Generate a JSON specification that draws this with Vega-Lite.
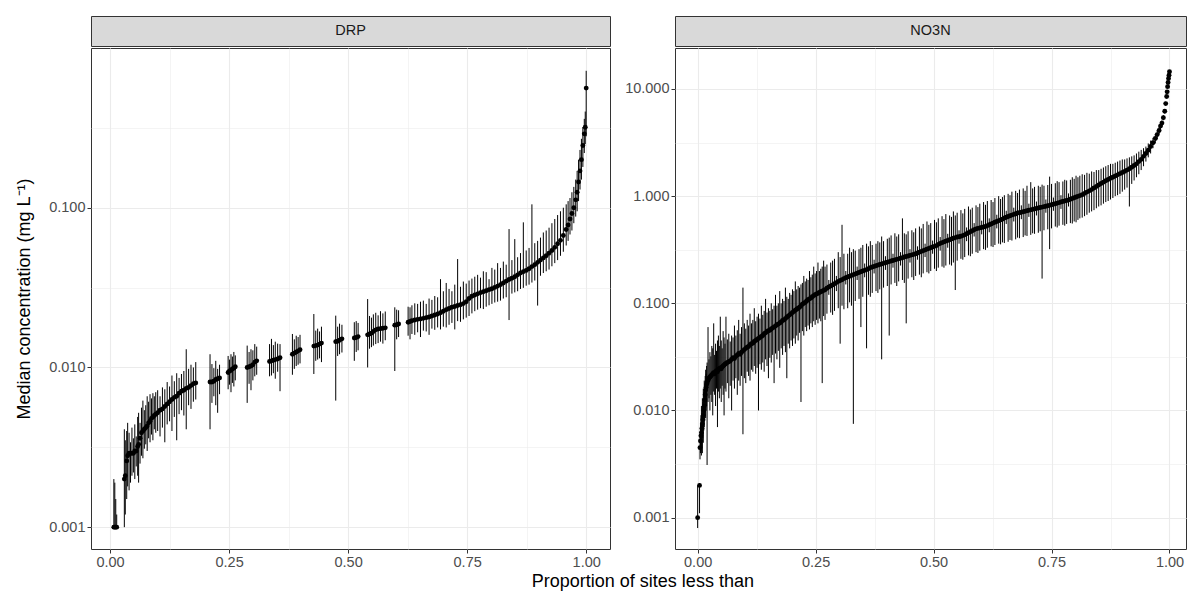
{
"$schema": "https://vega.github.io/schema/vega-lite/v6.json",
"padding": {"left": 15, "top": 15, "right": 0, "bottom": 0},
"background": "white",
"config": {
  "font": "Liberation Sans",
  "view": {"stroke": "#333333", "strokeWidth": 1},
  "axis": {
    "labelFont": "Liberation Sans", "titleFont": "Liberation Sans",
    "labelFontSize": 14.5, "labelColor": "#4D4D4D", "titleFontSize": 18, "titleFontWeight": "normal", "titleColor": "#000000",
    "domain": false, "tickColor": "#333333", "tickSize": 4, "tickWidth": 1, "labelPadding": 2,
    "gridColor": "#EBEBEB", "labelOverlap": false, "labelFlush": false
  }
},
"datasets": {
  "strip_drp": [{"label": "DRP"}],
  "strip_no3n": [{"label": "NO3N"}],
  "drp": [
    {"p":0.008,"m":0.001,"lo":0.001,"hi":0.002},
    {"p":0.010,"m":0.001,"lo":0.001,"hi":0.0019},
    {"p":0.012,"m":0.001,"lo":0.001,"hi":0.0015},
    {"p":0.014,"m":0.001,"lo":0.001,"hi":0.0012},
    {"p":0.030,"m":0.002,"lo":0.001,"hi":0.0041},
    {"p":0.032,"m":0.0021,"lo":0.0012,"hi":0.0035},
    {"p":0.035,"m":0.0026,"lo":0.0015,"hi":0.004},
    {"p":0.037,"m":0.0028,"lo":0.0018,"hi":0.0045},
    {"p":0.040,"m":0.0029,"lo":0.0017,"hi":0.0039},
    {"p":0.043,"m":0.0029,"lo":0.0019,"hi":0.0034},
    {"p":0.046,"m":0.0029,"lo":0.0021,"hi":0.0042},
    {"p":0.049,"m":0.0029,"lo":0.0022,"hi":0.0036},
    {"p":0.052,"m":0.003,"lo":0.002,"hi":0.0044},
    {"p":0.055,"m":0.003,"lo":0.0024,"hi":0.0037},
    {"p":0.058,"m":0.0032,"lo":0.0021,"hi":0.0049},
    {"p":0.060,"m":0.0033,"lo":0.0019,"hi":0.0052},
    {"p":0.063,"m":0.0036,"lo":0.0025,"hi":0.0045},
    {"p":0.066,"m":0.0039,"lo":0.0028,"hi":0.0056},
    {"p":0.069,"m":0.004,"lo":0.0027,"hi":0.0062},
    {"p":0.072,"m":0.0041,"lo":0.0031,"hi":0.0054},
    {"p":0.075,"m":0.0042,"lo":0.0033,"hi":0.0058},
    {"p":0.078,"m":0.0043,"lo":0.003,"hi":0.0066},
    {"p":0.081,"m":0.0045,"lo":0.0036,"hi":0.0061},
    {"p":0.084,"m":0.0046,"lo":0.0034,"hi":0.0068},
    {"p":0.087,"m":0.0048,"lo":0.0038,"hi":0.0064},
    {"p":0.090,"m":0.0049,"lo":0.0035,"hi":0.0069},
    {"p":0.093,"m":0.005,"lo":0.0041,"hi":0.0066},
    {"p":0.096,"m":0.0051,"lo":0.0039,"hi":0.007},
    {"p":0.100,"m":0.0052,"lo":0.004,"hi":0.0072},
    {"p":0.105,"m":0.0054,"lo":0.0037,"hi":0.0066},
    {"p":0.110,"m":0.0055,"lo":0.0042,"hi":0.0075},
    {"p":0.115,"m":0.0057,"lo":0.0034,"hi":0.0073},
    {"p":0.120,"m":0.0059,"lo":0.0044,"hi":0.0081},
    {"p":0.125,"m":0.0061,"lo":0.0046,"hi":0.0076},
    {"p":0.130,"m":0.0063,"lo":0.004,"hi":0.0089},
    {"p":0.135,"m":0.0065,"lo":0.0049,"hi":0.0082},
    {"p":0.140,"m":0.0066,"lo":0.0035,"hi":0.0092},
    {"p":0.145,"m":0.0069,"lo":0.0051,"hi":0.0086},
    {"p":0.150,"m":0.0071,"lo":0.0054,"hi":0.0091},
    {"p":0.155,"m":0.0072,"lo":0.005,"hi":0.0095},
    {"p":0.160,"m":0.0074,"lo":0.0041,"hi":0.013},
    {"p":0.165,"m":0.0075,"lo":0.0058,"hi":0.0098},
    {"p":0.170,"m":0.0077,"lo":0.0055,"hi":0.0104},
    {"p":0.175,"m":0.0079,"lo":0.0061,"hi":0.01},
    {"p":0.180,"m":0.008,"lo":0.0063,"hi":0.0108},
    {"p":0.210,"m":0.0081,"lo":0.0041,"hi":0.0121},
    {"p":0.214,"m":0.0081,"lo":0.006,"hi":0.0105},
    {"p":0.218,"m":0.0082,"lo":0.0066,"hi":0.0099},
    {"p":0.222,"m":0.0084,"lo":0.0058,"hi":0.011},
    {"p":0.226,"m":0.0085,"lo":0.0052,"hi":0.0098},
    {"p":0.230,"m":0.0086,"lo":0.0068,"hi":0.0104},
    {"p":0.248,"m":0.0093,"lo":0.0073,"hi":0.0118},
    {"p":0.251,"m":0.0095,"lo":0.0078,"hi":0.0112},
    {"p":0.254,"m":0.0096,"lo":0.007,"hi":0.0121},
    {"p":0.257,"m":0.0098,"lo":0.008,"hi":0.0117},
    {"p":0.260,"m":0.0099,"lo":0.0076,"hi":0.0125},
    {"p":0.263,"m":0.0101,"lo":0.0083,"hi":0.0119},
    {"p":0.288,"m":0.01,"lo":0.006,"hi":0.0137},
    {"p":0.292,"m":0.0101,"lo":0.0079,"hi":0.0125},
    {"p":0.296,"m":0.0102,"lo":0.0072,"hi":0.013},
    {"p":0.300,"m":0.0104,"lo":0.0083,"hi":0.0128},
    {"p":0.304,"m":0.0108,"lo":0.0088,"hi":0.014},
    {"p":0.308,"m":0.011,"lo":0.009,"hi":0.0135},
    {"p":0.335,"m":0.0109,"lo":0.0088,"hi":0.014},
    {"p":0.339,"m":0.011,"lo":0.0089,"hi":0.0151},
    {"p":0.343,"m":0.0111,"lo":0.0092,"hi":0.0138},
    {"p":0.347,"m":0.0112,"lo":0.0085,"hi":0.0145},
    {"p":0.352,"m":0.0113,"lo":0.0094,"hi":0.0141},
    {"p":0.357,"m":0.0115,"lo":0.0071,"hi":0.014},
    {"p":0.383,"m":0.0121,"lo":0.009,"hi":0.0162},
    {"p":0.387,"m":0.0123,"lo":0.0098,"hi":0.015},
    {"p":0.391,"m":0.0125,"lo":0.0102,"hi":0.0158},
    {"p":0.395,"m":0.0127,"lo":0.0104,"hi":0.0155},
    {"p":0.399,"m":0.0129,"lo":0.0106,"hi":0.016},
    {"p":0.428,"m":0.0136,"lo":0.0091,"hi":0.0216},
    {"p":0.432,"m":0.0137,"lo":0.011,"hi":0.017},
    {"p":0.436,"m":0.0138,"lo":0.0112,"hi":0.0175},
    {"p":0.440,"m":0.014,"lo":0.0114,"hi":0.0168},
    {"p":0.444,"m":0.0142,"lo":0.0108,"hi":0.018},
    {"p":0.474,"m":0.0145,"lo":0.0062,"hi":0.0211},
    {"p":0.478,"m":0.0146,"lo":0.0118,"hi":0.018},
    {"p":0.482,"m":0.0148,"lo":0.0121,"hi":0.0188},
    {"p":0.487,"m":0.0151,"lo":0.0124,"hi":0.0185},
    {"p":0.513,"m":0.0153,"lo":0.011,"hi":0.0192},
    {"p":0.517,"m":0.0154,"lo":0.0125,"hi":0.0195},
    {"p":0.521,"m":0.0156,"lo":0.0128,"hi":0.019},
    {"p":0.541,"m":0.016,"lo":0.01,"hi":0.0268},
    {"p":0.545,"m":0.0162,"lo":0.0131,"hi":0.021},
    {"p":0.549,"m":0.0164,"lo":0.0134,"hi":0.0205},
    {"p":0.553,"m":0.0168,"lo":0.0137,"hi":0.0215},
    {"p":0.558,"m":0.0172,"lo":0.014,"hi":0.022},
    {"p":0.563,"m":0.0174,"lo":0.0142,"hi":0.0212},
    {"p":0.568,"m":0.0175,"lo":0.0145,"hi":0.0225},
    {"p":0.573,"m":0.0176,"lo":0.0141,"hi":0.0218},
    {"p":0.578,"m":0.0177,"lo":0.0148,"hi":0.0224},
    {"p":0.598,"m":0.0184,"lo":0.0095,"hi":0.0238},
    {"p":0.602,"m":0.0185,"lo":0.015,"hi":0.023},
    {"p":0.606,"m":0.0187,"lo":0.0155,"hi":0.0228},
    {"p":0.626,"m":0.0192,"lo":0.0158,"hi":0.024},
    {"p":0.630,"m":0.0194,"lo":0.015,"hi":0.0238},
    {"p":0.634,"m":0.0196,"lo":0.0162,"hi":0.0245},
    {"p":0.640,"m":0.0198,"lo":0.016,"hi":0.0252},
    {"p":0.646,"m":0.02,"lo":0.0166,"hi":0.025},
    {"p":0.652,"m":0.0201,"lo":0.0155,"hi":0.0258},
    {"p":0.658,"m":0.0203,"lo":0.017,"hi":0.0262},
    {"p":0.664,"m":0.0205,"lo":0.0168,"hi":0.025},
    {"p":0.670,"m":0.0207,"lo":0.016,"hi":0.027},
    {"p":0.676,"m":0.021,"lo":0.0175,"hi":0.0265},
    {"p":0.682,"m":0.0213,"lo":0.0172,"hi":0.028},
    {"p":0.688,"m":0.0216,"lo":0.0178,"hi":0.0275},
    {"p":0.694,"m":0.022,"lo":0.0173,"hi":0.0357},
    {"p":0.700,"m":0.0225,"lo":0.018,"hi":0.03},
    {"p":0.706,"m":0.023,"lo":0.0178,"hi":0.0338},
    {"p":0.712,"m":0.0234,"lo":0.0185,"hi":0.031},
    {"p":0.718,"m":0.0238,"lo":0.019,"hi":0.03},
    {"p":0.724,"m":0.0241,"lo":0.0173,"hi":0.033},
    {"p":0.730,"m":0.0244,"lo":0.0195,"hi":0.0477},
    {"p":0.736,"m":0.0247,"lo":0.0193,"hi":0.032},
    {"p":0.742,"m":0.0251,"lo":0.02,"hi":0.0345},
    {"p":0.748,"m":0.0258,"lo":0.0205,"hi":0.0335},
    {"p":0.754,"m":0.027,"lo":0.021,"hi":0.035},
    {"p":0.760,"m":0.0279,"lo":0.0218,"hi":0.036},
    {"p":0.766,"m":0.0284,"lo":0.0225,"hi":0.037},
    {"p":0.772,"m":0.0289,"lo":0.023,"hi":0.038},
    {"p":0.778,"m":0.0294,"lo":0.0235,"hi":0.0365},
    {"p":0.784,"m":0.0298,"lo":0.0232,"hi":0.04},
    {"p":0.790,"m":0.0302,"lo":0.024,"hi":0.0395},
    {"p":0.796,"m":0.0307,"lo":0.0245,"hi":0.0357},
    {"p":0.802,"m":0.0311,"lo":0.025,"hi":0.042},
    {"p":0.808,"m":0.0317,"lo":0.0255,"hi":0.041},
    {"p":0.814,"m":0.0323,"lo":0.0258,"hi":0.045},
    {"p":0.820,"m":0.033,"lo":0.0262,"hi":0.042},
    {"p":0.826,"m":0.0338,"lo":0.027,"hi":0.046},
    {"p":0.832,"m":0.0347,"lo":0.0275,"hi":0.044},
    {"p":0.838,"m":0.0355,"lo":0.0198,"hi":0.0735},
    {"p":0.844,"m":0.0362,"lo":0.029,"hi":0.047},
    {"p":0.850,"m":0.037,"lo":0.0295,"hi":0.0636},
    {"p":0.856,"m":0.038,"lo":0.03,"hi":0.049},
    {"p":0.862,"m":0.039,"lo":0.031,"hi":0.052},
    {"p":0.868,"m":0.0398,"lo":0.0315,"hi":0.081},
    {"p":0.874,"m":0.0405,"lo":0.0325,"hi":0.054},
    {"p":0.880,"m":0.0415,"lo":0.033,"hi":0.056},
    {"p":0.886,"m":0.0428,"lo":0.034,"hi":0.105},
    {"p":0.892,"m":0.044,"lo":0.035,"hi":0.06},
    {"p":0.898,"m":0.0455,"lo":0.0244,"hi":0.062},
    {"p":0.904,"m":0.047,"lo":0.0375,"hi":0.065},
    {"p":0.910,"m":0.0485,"lo":0.039,"hi":0.07},
    {"p":0.916,"m":0.05,"lo":0.04,"hi":0.072},
    {"p":0.922,"m":0.052,"lo":0.041,"hi":0.075},
    {"p":0.928,"m":0.054,"lo":0.043,"hi":0.08},
    {"p":0.934,"m":0.0565,"lo":0.045,"hi":0.085},
    {"p":0.940,"m":0.0595,"lo":0.047,"hi":0.09},
    {"p":0.946,"m":0.0625,"lo":0.05,"hi":0.095},
    {"p":0.952,"m":0.067,"lo":0.053,"hi":0.1},
    {"p":0.958,"m":0.073,"lo":0.058,"hi":0.105},
    {"p":0.962,"m":0.078,"lo":0.062,"hi":0.11},
    {"p":0.966,"m":0.085,"lo":0.068,"hi":0.115},
    {"p":0.970,"m":0.092,"lo":0.072,"hi":0.125},
    {"p":0.974,"m":0.1,"lo":0.08,"hi":0.135},
    {"p":0.978,"m":0.112,"lo":0.088,"hi":0.15},
    {"p":0.981,"m":0.125,"lo":0.095,"hi":0.17},
    {"p":0.984,"m":0.145,"lo":0.11,"hi":0.2},
    {"p":0.987,"m":0.17,"lo":0.13,"hi":0.23},
    {"p":0.990,"m":0.2,"lo":0.15,"hi":0.27},
    {"p":0.993,"m":0.245,"lo":0.18,"hi":0.32},
    {"p":0.996,"m":0.29,"lo":0.22,"hi":0.36},
    {"p":0.998,"m":0.319,"lo":0.25,"hi":0.4},
    {"p":1.000,"m":0.561,"lo":0.28,"hi":0.72}
  ],
  "no3n": [
    {"p":0.000,"m":0.001,"lo":0.0008,"hi":0.002},
    {"p":0.004,"m":0.002,"lo":0.0011,"hi":0.0021},
    {"p":0.005,"m":0.0045,"lo":0.0035,"hi":0.006},
    {"p":0.006,"m":0.0052,"lo":0.004,"hi":0.0075},
    {"p":0.007,"m":0.0058,"lo":0.0042,"hi":0.009},
    {"p":0.008,"m":0.0062,"lo":0.0038,"hi":0.011},
    {"p":0.009,"m":0.0068,"lo":0.0045,"hi":0.0095},
    {"p":0.010,"m":0.0075,"lo":0.004,"hi":0.013},
    {"p":0.011,"m":0.0082,"lo":0.0055,"hi":0.012},
    {"p":0.012,"m":0.009,"lo":0.005,"hi":0.016},
    {"p":0.013,"m":0.01,"lo":0.0065,"hi":0.015},
    {"p":0.014,"m":0.011,"lo":0.007,"hi":0.019},
    {"p":0.015,"m":0.0125,"lo":0.008,"hi":0.017},
    {"p":0.016,"m":0.014,"lo":0.009,"hi":0.021},
    {"p":0.017,"m":0.0155,"lo":0.0085,"hi":0.024},
    {"p":0.018,"m":0.0165,"lo":0.01,"hi":0.022},
    {"p":0.019,"m":0.0175,"lo":0.011,"hi":0.026},
    {"p":0.020,"m":0.018,"lo":0.0031,"hi":0.028},
    {"p":0.022,"m":0.019,"lo":0.012,"hi":0.06},
    {"p":0.024,"m":0.02,"lo":0.013,"hi":0.03},
    {"p":0.026,"m":0.0205,"lo":0.01,"hi":0.035},
    {"p":0.028,"m":0.021,"lo":0.014,"hi":0.032},
    {"p":0.030,"m":0.0215,"lo":0.012,"hi":0.04},
    {"p":0.032,"m":0.022,"lo":0.009,"hi":0.038},
    {"p":0.034,"m":0.0225,"lo":0.015,"hi":0.065},
    {"p":0.036,"m":0.022,"lo":0.014,"hi":0.033},
    {"p":0.038,"m":0.023,"lo":0.011,"hi":0.042},
    {"p":0.040,"m":0.0235,"lo":0.016,"hi":0.036},
    {"p":0.042,"m":0.023,"lo":0.007,"hi":0.045},
    {"p":0.044,"m":0.024,"lo":0.015,"hi":0.05},
    {"p":0.046,"m":0.0245,"lo":0.013,"hi":0.04},
    {"p":0.048,"m":0.025,"lo":0.016,"hi":0.075},
    {"p":0.050,"m":0.0245,"lo":0.012,"hi":0.045},
    {"p":0.052,"m":0.0255,"lo":0.017,"hi":0.038},
    {"p":0.054,"m":0.026,"lo":0.014,"hi":0.055},
    {"p":0.056,"m":0.0265,"lo":0.009,"hi":0.048},
    {"p":0.058,"m":0.027,"lo":0.016,"hi":0.042},
    {"p":0.060,"m":0.0275,"lo":0.015,"hi":0.075},
    {"p":0.063,"m":0.028,"lo":0.018,"hi":0.046},
    {"p":0.066,"m":0.0285,"lo":0.013,"hi":0.052},
    {"p":0.069,"m":0.029,"lo":0.017,"hi":0.044},
    {"p":0.072,"m":0.03,"lo":0.01,"hi":0.05},
    {"p":0.075,"m":0.031,"lo":0.019,"hi":0.048},
    {"p":0.078,"m":0.0305,"lo":0.016,"hi":0.062},
    {"p":0.081,"m":0.032,"lo":0.02,"hi":0.05},
    {"p":0.084,"m":0.033,"lo":0.014,"hi":0.056},
    {"p":0.087,"m":0.034,"lo":0.019,"hi":0.07},
    {"p":0.090,"m":0.0335,"lo":0.017,"hi":0.052},
    {"p":0.093,"m":0.035,"lo":0.021,"hi":0.06},
    {"p":0.096,"m":0.036,"lo":0.006,"hi":0.14},
    {"p":0.099,"m":0.037,"lo":0.02,"hi":0.065},
    {"p":0.102,"m":0.038,"lo":0.018,"hi":0.058},
    {"p":0.105,"m":0.039,"lo":0.023,"hi":0.07},
    {"p":0.108,"m":0.0395,"lo":0.021,"hi":0.062},
    {"p":0.111,"m":0.041,"lo":0.019,"hi":0.08},
    {"p":0.114,"m":0.042,"lo":0.024,"hi":0.065},
    {"p":0.117,"m":0.0425,"lo":0.023,"hi":0.07},
    {"p":0.120,"m":0.044,"lo":0.026,"hi":0.09},
    {"p":0.123,"m":0.045,"lo":0.022,"hi":0.068},
    {"p":0.126,"m":0.046,"lo":0.025,"hi":0.075},
    {"p":0.129,"m":0.047,"lo":0.01,"hi":0.08},
    {"p":0.132,"m":0.048,"lo":0.027,"hi":0.072},
    {"p":0.135,"m":0.049,"lo":0.024,"hi":0.095},
    {"p":0.138,"m":0.05,"lo":0.028,"hi":0.078},
    {"p":0.141,"m":0.052,"lo":0.023,"hi":0.085},
    {"p":0.144,"m":0.053,"lo":0.03,"hi":0.11},
    {"p":0.147,"m":0.0545,"lo":0.026,"hi":0.082},
    {"p":0.150,"m":0.0555,"lo":0.02,"hi":0.09},
    {"p":0.153,"m":0.056,"lo":0.031,"hi":0.085},
    {"p":0.156,"m":0.0575,"lo":0.028,"hi":0.1},
    {"p":0.159,"m":0.059,"lo":0.033,"hi":0.088},
    {"p":0.162,"m":0.06,"lo":0.018,"hi":0.095},
    {"p":0.165,"m":0.0615,"lo":0.034,"hi":0.12},
    {"p":0.168,"m":0.063,"lo":0.03,"hi":0.095},
    {"p":0.171,"m":0.064,"lo":0.036,"hi":0.1},
    {"p":0.174,"m":0.0655,"lo":0.025,"hi":0.13},
    {"p":0.177,"m":0.067,"lo":0.038,"hi":0.1},
    {"p":0.180,"m":0.069,"lo":0.033,"hi":0.11},
    {"p":0.183,"m":0.07,"lo":0.04,"hi":0.105},
    {"p":0.186,"m":0.072,"lo":0.035,"hi":0.14},
    {"p":0.189,"m":0.074,"lo":0.02,"hi":0.115},
    {"p":0.192,"m":0.076,"lo":0.042,"hi":0.11},
    {"p":0.195,"m":0.078,"lo":0.038,"hi":0.125},
    {"p":0.198,"m":0.08,"lo":0.045,"hi":0.12},
    {"p":0.201,"m":0.082,"lo":0.04,"hi":0.135},
    {"p":0.204,"m":0.084,"lo":0.047,"hi":0.13},
    {"p":0.207,"m":0.086,"lo":0.042,"hi":0.16},
    {"p":0.210,"m":0.088,"lo":0.05,"hi":0.135},
    {"p":0.213,"m":0.09,"lo":0.045,"hi":0.145},
    {"p":0.216,"m":0.092,"lo":0.053,"hi":0.14},
    {"p":0.219,"m":0.095,"lo":0.012,"hi":0.15},
    {"p":0.222,"m":0.098,"lo":0.055,"hi":0.155},
    {"p":0.225,"m":0.1,"lo":0.05,"hi":0.18},
    {"p":0.228,"m":0.102,"lo":0.06,"hi":0.16},
    {"p":0.231,"m":0.105,"lo":0.055,"hi":0.17},
    {"p":0.234,"m":0.108,"lo":0.062,"hi":0.165},
    {"p":0.237,"m":0.11,"lo":0.057,"hi":0.2},
    {"p":0.240,"m":0.112,"lo":0.065,"hi":0.175},
    {"p":0.243,"m":0.115,"lo":0.06,"hi":0.185},
    {"p":0.246,"m":0.118,"lo":0.068,"hi":0.22},
    {"p":0.249,"m":0.12,"lo":0.063,"hi":0.19},
    {"p":0.252,"m":0.122,"lo":0.07,"hi":0.2},
    {"p":0.255,"m":0.124,"lo":0.065,"hi":0.24},
    {"p":0.258,"m":0.126,"lo":0.072,"hi":0.2},
    {"p":0.261,"m":0.128,"lo":0.068,"hi":0.21},
    {"p":0.264,"m":0.13,"lo":0.018,"hi":0.22},
    {"p":0.267,"m":0.132,"lo":0.076,"hi":0.25},
    {"p":0.270,"m":0.134,"lo":0.07,"hi":0.22},
    {"p":0.274,"m":0.138,"lo":0.08,"hi":0.23},
    {"p":0.278,"m":0.142,"lo":0.12,"hi":0.165},
    {"p":0.282,"m":0.145,"lo":0.082,"hi":0.24},
    {"p":0.286,"m":0.148,"lo":0.078,"hi":0.25},
    {"p":0.290,"m":0.152,"lo":0.085,"hi":0.26},
    {"p":0.294,"m":0.156,"lo":0.13,"hi":0.18},
    {"p":0.298,"m":0.16,"lo":0.09,"hi":0.3},
    {"p":0.302,"m":0.163,"lo":0.042,"hi":0.27},
    {"p":0.306,"m":0.166,"lo":0.095,"hi":0.54},
    {"p":0.310,"m":0.17,"lo":0.088,"hi":0.29},
    {"p":0.314,"m":0.173,"lo":0.15,"hi":0.2},
    {"p":0.318,"m":0.176,"lo":0.09,"hi":0.29},
    {"p":0.322,"m":0.179,"lo":0.102,"hi":0.33},
    {"p":0.326,"m":0.182,"lo":0.095,"hi":0.3},
    {"p":0.330,"m":0.185,"lo":0.0075,"hi":0.32},
    {"p":0.334,"m":0.188,"lo":0.105,"hi":0.31},
    {"p":0.338,"m":0.191,"lo":0.165,"hi":0.22},
    {"p":0.342,"m":0.194,"lo":0.11,"hi":0.32},
    {"p":0.346,"m":0.197,"lo":0.06,"hi":0.33},
    {"p":0.350,"m":0.2,"lo":0.115,"hi":0.35},
    {"p":0.354,"m":0.203,"lo":0.175,"hi":0.235},
    {"p":0.358,"m":0.206,"lo":0.038,"hi":0.36},
    {"p":0.362,"m":0.21,"lo":0.12,"hi":0.34},
    {"p":0.366,"m":0.215,"lo":0.115,"hi":0.38},
    {"p":0.370,"m":0.218,"lo":0.125,"hi":0.35},
    {"p":0.374,"m":0.221,"lo":0.19,"hi":0.255},
    {"p":0.378,"m":0.224,"lo":0.13,"hi":0.36},
    {"p":0.382,"m":0.227,"lo":0.125,"hi":0.38},
    {"p":0.386,"m":0.23,"lo":0.135,"hi":0.37},
    {"p":0.390,"m":0.233,"lo":0.03,"hi":0.42},
    {"p":0.394,"m":0.236,"lo":0.14,"hi":0.38},
    {"p":0.398,"m":0.239,"lo":0.205,"hi":0.275},
    {"p":0.402,"m":0.242,"lo":0.145,"hi":0.4},
    {"p":0.406,"m":0.245,"lo":0.05,"hi":0.41},
    {"p":0.410,"m":0.248,"lo":0.15,"hi":0.43},
    {"p":0.414,"m":0.251,"lo":0.215,"hi":0.29},
    {"p":0.418,"m":0.254,"lo":0.155,"hi":0.45},
    {"p":0.422,"m":0.257,"lo":0.145,"hi":0.42},
    {"p":0.426,"m":0.26,"lo":0.16,"hi":0.44},
    {"p":0.430,"m":0.263,"lo":0.225,"hi":0.3},
    {"p":0.434,"m":0.266,"lo":0.165,"hi":0.62},
    {"p":0.438,"m":0.27,"lo":0.155,"hi":0.45},
    {"p":0.442,"m":0.273,"lo":0.065,"hi":0.44},
    {"p":0.446,"m":0.276,"lo":0.17,"hi":0.47},
    {"p":0.450,"m":0.28,"lo":0.24,"hi":0.32},
    {"p":0.454,"m":0.283,"lo":0.175,"hi":0.48},
    {"p":0.458,"m":0.286,"lo":0.165,"hi":0.46},
    {"p":0.462,"m":0.29,"lo":0.18,"hi":0.5},
    {"p":0.466,"m":0.295,"lo":0.255,"hi":0.34},
    {"p":0.470,"m":0.3,"lo":0.185,"hi":0.52},
    {"p":0.474,"m":0.305,"lo":0.175,"hi":0.5},
    {"p":0.478,"m":0.31,"lo":0.19,"hi":0.55},
    {"p":0.482,"m":0.315,"lo":0.27,"hi":0.36},
    {"p":0.486,"m":0.32,"lo":0.195,"hi":0.58},
    {"p":0.490,"m":0.325,"lo":0.19,"hi":0.54},
    {"p":0.494,"m":0.33,"lo":0.2,"hi":0.56},
    {"p":0.498,"m":0.335,"lo":0.29,"hi":0.385},
    {"p":0.502,"m":0.34,"lo":0.21,"hi":0.6},
    {"p":0.506,"m":0.345,"lo":0.2,"hi":0.57},
    {"p":0.510,"m":0.355,"lo":0.215,"hi":0.62},
    {"p":0.514,"m":0.362,"lo":0.31,"hi":0.415},
    {"p":0.518,"m":0.368,"lo":0.22,"hi":0.65},
    {"p":0.522,"m":0.374,"lo":0.215,"hi":0.61},
    {"p":0.526,"m":0.38,"lo":0.225,"hi":0.68},
    {"p":0.530,"m":0.386,"lo":0.33,"hi":0.445},
    {"p":0.534,"m":0.392,"lo":0.23,"hi":0.66},
    {"p":0.538,"m":0.398,"lo":0.225,"hi":0.64},
    {"p":0.542,"m":0.404,"lo":0.24,"hi":0.72},
    {"p":0.546,"m":0.41,"lo":0.133,"hi":0.66},
    {"p":0.550,"m":0.415,"lo":0.25,"hi":0.7},
    {"p":0.554,"m":0.418,"lo":0.36,"hi":0.48},
    {"p":0.558,"m":0.422,"lo":0.26,"hi":0.74},
    {"p":0.562,"m":0.428,"lo":0.255,"hi":0.69},
    {"p":0.566,"m":0.435,"lo":0.27,"hi":0.76},
    {"p":0.570,"m":0.445,"lo":0.38,"hi":0.51},
    {"p":0.574,"m":0.455,"lo":0.28,"hi":0.8},
    {"p":0.578,"m":0.465,"lo":0.275,"hi":0.75},
    {"p":0.582,"m":0.475,"lo":0.29,"hi":0.78},
    {"p":0.586,"m":0.485,"lo":0.42,"hi":0.56},
    {"p":0.590,"m":0.495,"lo":0.3,"hi":0.82},
    {"p":0.594,"m":0.5,"lo":0.295,"hi":0.79},
    {"p":0.598,"m":0.505,"lo":0.31,"hi":0.85},
    {"p":0.602,"m":0.51,"lo":0.44,"hi":0.59},
    {"p":0.606,"m":0.515,"lo":0.32,"hi":0.88},
    {"p":0.610,"m":0.52,"lo":0.315,"hi":0.83},
    {"p":0.614,"m":0.53,"lo":0.33,"hi":0.9},
    {"p":0.618,"m":0.54,"lo":0.46,"hi":0.62},
    {"p":0.622,"m":0.55,"lo":0.34,"hi":0.92},
    {"p":0.626,"m":0.56,"lo":0.335,"hi":0.88},
    {"p":0.630,"m":0.57,"lo":0.35,"hi":0.96},
    {"p":0.634,"m":0.58,"lo":0.5,"hi":0.67},
    {"p":0.638,"m":0.59,"lo":0.36,"hi":1.0},
    {"p":0.642,"m":0.6,"lo":0.355,"hi":0.94},
    {"p":0.646,"m":0.61,"lo":0.37,"hi":0.98},
    {"p":0.650,"m":0.625,"lo":0.365,"hi":1.02},
    {"p":0.654,"m":0.635,"lo":0.55,"hi":0.73},
    {"p":0.658,"m":0.645,"lo":0.375,"hi":1.05},
    {"p":0.662,"m":0.655,"lo":0.39,"hi":1.02},
    {"p":0.666,"m":0.665,"lo":0.385,"hi":1.1},
    {"p":0.670,"m":0.675,"lo":0.58,"hi":0.78},
    {"p":0.674,"m":0.685,"lo":0.395,"hi":1.12},
    {"p":0.678,"m":0.695,"lo":0.41,"hi":1.07},
    {"p":0.682,"m":0.7,"lo":0.405,"hi":1.15},
    {"p":0.686,"m":0.708,"lo":0.61,"hi":0.82},
    {"p":0.690,"m":0.715,"lo":0.415,"hi":1.18},
    {"p":0.694,"m":0.722,"lo":0.43,"hi":1.12},
    {"p":0.698,"m":0.73,"lo":0.425,"hi":1.25},
    {"p":0.702,"m":0.738,"lo":0.64,"hi":0.85},
    {"p":0.706,"m":0.745,"lo":0.435,"hi":1.35},
    {"p":0.710,"m":0.752,"lo":0.45,"hi":1.18},
    {"p":0.714,"m":0.76,"lo":0.445,"hi":1.22},
    {"p":0.718,"m":0.768,"lo":0.66,"hi":0.89},
    {"p":0.722,"m":0.775,"lo":0.455,"hi":1.25},
    {"p":0.726,"m":0.783,"lo":0.47,"hi":1.22},
    {"p":0.730,"m":0.79,"lo":0.17,"hi":1.28},
    {"p":0.734,"m":0.798,"lo":0.48,"hi":1.25},
    {"p":0.738,"m":0.805,"lo":0.7,"hi":0.93},
    {"p":0.742,"m":0.813,"lo":0.49,"hi":1.27},
    {"p":0.746,"m":0.82,"lo":0.32,"hi":1.52},
    {"p":0.750,"m":0.83,"lo":0.5,"hi":1.3},
    {"p":0.754,"m":0.84,"lo":0.73,"hi":0.97},
    {"p":0.758,"m":0.85,"lo":0.52,"hi":1.32},
    {"p":0.762,"m":0.86,"lo":0.51,"hi":1.38},
    {"p":0.766,"m":0.87,"lo":0.53,"hi":1.35},
    {"p":0.770,"m":0.88,"lo":0.76,"hi":1.02},
    {"p":0.774,"m":0.89,"lo":0.54,"hi":1.37},
    {"p":0.778,"m":0.9,"lo":0.53,"hi":1.42},
    {"p":0.782,"m":0.91,"lo":0.55,"hi":1.4},
    {"p":0.786,"m":0.92,"lo":0.8,"hi":1.06},
    {"p":0.790,"m":0.935,"lo":0.56,"hi":1.42},
    {"p":0.794,"m":0.95,"lo":0.555,"hi":1.5},
    {"p":0.798,"m":0.965,"lo":0.58,"hi":1.45},
    {"p":0.802,"m":0.98,"lo":0.57,"hi":1.55},
    {"p":0.806,"m":0.995,"lo":0.6,"hi":1.5},
    {"p":0.810,"m":1.01,"lo":0.62,"hi":1.55},
    {"p":0.815,"m":1.03,"lo":0.63,"hi":1.6},
    {"p":0.820,"m":1.06,"lo":0.65,"hi":1.58},
    {"p":0.825,"m":1.09,"lo":0.67,"hi":1.65},
    {"p":0.830,"m":1.12,"lo":0.7,"hi":1.62},
    {"p":0.835,"m":1.15,"lo":0.72,"hi":1.7},
    {"p":0.840,"m":1.19,"lo":0.74,"hi":1.68},
    {"p":0.845,"m":1.23,"lo":0.77,"hi":1.75},
    {"p":0.850,"m":1.27,"lo":0.8,"hi":1.75},
    {"p":0.855,"m":1.31,"lo":0.82,"hi":1.8},
    {"p":0.860,"m":1.35,"lo":0.85,"hi":1.85},
    {"p":0.865,"m":1.39,"lo":0.88,"hi":1.9},
    {"p":0.870,"m":1.43,"lo":0.9,"hi":1.95},
    {"p":0.875,"m":1.47,"lo":0.93,"hi":2.0},
    {"p":0.880,"m":1.5,"lo":0.96,"hi":2.0},
    {"p":0.885,"m":1.54,"lo":1.0,"hi":2.05},
    {"p":0.890,"m":1.58,"lo":1.02,"hi":2.1},
    {"p":0.895,"m":1.62,"lo":1.05,"hi":2.15},
    {"p":0.900,"m":1.66,"lo":1.1,"hi":2.2},
    {"p":0.905,"m":1.7,"lo":1.15,"hi":2.2},
    {"p":0.910,"m":1.75,"lo":1.2,"hi":2.25},
    {"p":0.915,"m":1.8,"lo":0.8,"hi":2.3},
    {"p":0.920,"m":1.86,"lo":1.3,"hi":2.35},
    {"p":0.925,"m":1.93,"lo":1.4,"hi":2.4},
    {"p":0.930,"m":2.0,"lo":1.5,"hi":2.5},
    {"p":0.935,"m":2.1,"lo":1.6,"hi":2.6},
    {"p":0.940,"m":2.2,"lo":1.75,"hi":2.7},
    {"p":0.945,"m":2.35,"lo":1.9,"hi":2.8},
    {"p":0.950,"m":2.5,"lo":2.1,"hi":2.9},
    {"p":0.955,"m":2.68,"lo":2.3,"hi":3.1},
    {"p":0.960,"m":2.9,"lo":2.5,"hi":3.3},
    {"p":0.965,"m":3.15,"lo":2.8,"hi":3.5},
    {"p":0.970,"m":3.45,"lo":3.1,"hi":3.8},
    {"p":0.974,"m":3.75,"lo":3.4,"hi":4.1},
    {"p":0.978,"m":4.1,"lo":3.8,"hi":4.4},
    {"p":0.981,"m":4.5,"lo":4.2,"hi":4.8},
    {"p":0.984,"m":4.8,"lo":4.5,"hi":5.1},
    {"p":0.987,"m":5.4,"lo":5.1,"hi":5.7},
    {"p":0.990,"m":6.2,"lo":5.9,"hi":6.5},
    {"p":0.992,"m":7.3,"lo":7.0,"hi":7.6},
    {"p":0.994,"m":8.5,"lo":8.2,"hi":8.8},
    {"p":0.995,"m":9.4,"lo":9.1,"hi":9.7},
    {"p":0.996,"m":10.5,"lo":10.2,"hi":10.8},
    {"p":0.997,"m":11.5,"lo":11.2,"hi":11.8},
    {"p":0.998,"m":12.5,"lo":12.2,"hi":12.8},
    {"p":0.999,"m":13.4,"lo":13.1,"hi":13.7},
    {"p":1.000,"m":14.5,"lo":14.2,"hi":14.8}
  ]
},
"title": {"text": "Proportion of sites less than", "orient": "bottom", "anchor": "middle", "frame": "bounds", "font": "Liberation Sans", "fontSize": 18, "fontWeight": "normal", "color": "#000000", "offset": 4, "dx": 42},
"hconcat": [
  {
    "spacing": 0,
    "vconcat": [
      {
        "width": 519, "height": 30,
        "view": {"fill": "#D9D9D9", "stroke": "#333333", "strokeWidth": 1},
        "data": {"name": "strip_drp"},
        "mark": {"type": "text", "fontSize": 14.5, "color": "#1A1A1A", "font": "Liberation Sans", "baseline": "middle", "align": "center"},
        "encoding": {"text": {"field": "label"}}
      },
      {
        "width": 519, "height": 501,
        "view": {"fill": "white", "stroke": "#333333", "strokeWidth": 1},
        "data": {"name": "drp"},
        "layer": [
          {
            "mark": {"type": "rule", "color": "#000000", "strokeWidth": 1, "clip": true},
            "encoding": {
              "x": {"field": "p", "type": "quantitative"},
              "y": {"field": "lo", "type": "quantitative"},
              "y2": {"field": "hi"}
            }
          },
          {
            "mark": {"type": "point", "filled": true, "color": "#000000", "opacity": 1, "size": 24, "clip": true},
            "encoding": {
              "x": {"field": "p", "type": "quantitative",
                "scale": {"domain": [-0.04, 1.05], "nice": false, "zero": false},
                "axis": {"title": null, "values": [0, 0.125, 0.25, 0.375, 0.5, 0.625, 0.75, 0.875, 1],
                  "labelExpr": "indexof([0,0.25,0.5,0.75,1], datum.value) >= 0 ? format(datum.value, '.2f') : ''",
                  "tickOpacity": {"condition": {"test": "indexof([0,0.25,0.5,0.75,1], datum.value) >= 0", "value": 1}, "value": 0},
                  "gridWidth": {"condition": {"test": "indexof([0,0.25,0.5,0.75,1], datum.value) >= 0", "value": 1.1}, "value": 0.55}}},
              "y": {"field": "m", "type": "quantitative",
                "scale": {"type": "log", "domain": [0.00073, 1.0], "nice": false, "zero": false},
                "axis": {"title": "Median concentration (mg L⁻¹)", "titlePadding": 15,
                  "values": [0.001, 0.00316, 0.01, 0.0316, 0.1, 0.316],
                  "labelExpr": "indexof([0.001,0.01,0.1], datum.value) >= 0 ? format(datum.value, '.3f') : ''",
                  "tickOpacity": {"condition": {"test": "indexof([0.001,0.01,0.1], datum.value) >= 0", "value": 1}, "value": 0},
                  "gridWidth": {"condition": {"test": "indexof([0.001,0.01,0.1], datum.value) >= 0", "value": 1.1}, "value": 0.55}}}
            }
          }
        ]
      }
    ]
  },
  {
    "spacing": 0,
    "vconcat": [
      {
        "width": 511, "height": 30,
        "view": {"fill": "#D9D9D9", "stroke": "#333333", "strokeWidth": 1},
        "data": {"name": "strip_no3n"},
        "mark": {"type": "text", "fontSize": 14.5, "color": "#1A1A1A", "font": "Liberation Sans", "baseline": "middle", "align": "center"},
        "encoding": {"text": {"field": "label"}}
      },
      {
        "width": 511, "height": 501,
        "view": {"fill": "white", "stroke": "#333333", "strokeWidth": 1},
        "data": {"name": "no3n"},
        "layer": [
          {
            "mark": {"type": "rule", "color": "#000000", "strokeWidth": 1, "clip": true},
            "encoding": {
              "x": {"field": "p", "type": "quantitative"},
              "y": {"field": "lo", "type": "quantitative"},
              "y2": {"field": "hi"}
            }
          },
          {
            "mark": {"type": "point", "filled": true, "color": "#000000", "opacity": 1, "size": 24, "clip": true},
            "encoding": {
              "x": {"field": "p", "type": "quantitative",
                "scale": {"domain": [-0.048, 1.035], "nice": false, "zero": false},
                "axis": {"title": null, "values": [0, 0.125, 0.25, 0.375, 0.5, 0.625, 0.75, 0.875, 1],
                  "labelExpr": "indexof([0,0.25,0.5,0.75,1], datum.value) >= 0 ? format(datum.value, '.2f') : ''",
                  "tickOpacity": {"condition": {"test": "indexof([0,0.25,0.5,0.75,1], datum.value) >= 0", "value": 1}, "value": 0},
                  "gridWidth": {"condition": {"test": "indexof([0,0.25,0.5,0.75,1], datum.value) >= 0", "value": 1.1}, "value": 0.55}}},
              "y": {"field": "m", "type": "quantitative",
                "scale": {"type": "log", "domain": [0.00051, 24.1], "nice": false, "zero": false},
                "axis": {"title": null,
                  "values": [0.001, 0.00316, 0.01, 0.0316, 0.1, 0.316, 1, 3.16, 10],
                  "labelExpr": "indexof([0.001,0.01,0.1,1,10], datum.value) >= 0 ? format(datum.value, '.3f') : ''",
                  "tickOpacity": {"condition": {"test": "indexof([0.001,0.01,0.1,1,10], datum.value) >= 0", "value": 1}, "value": 0},
                  "gridWidth": {"condition": {"test": "indexof([0.001,0.01,0.1,1,10], datum.value) >= 0", "value": 1.1}, "value": 0.55}}}
            }
          }
        ]
      }
    ]
  }
],
"spacing": 13,
"resolve": {"scale": {"x": "independent", "y": "independent"}}
}
